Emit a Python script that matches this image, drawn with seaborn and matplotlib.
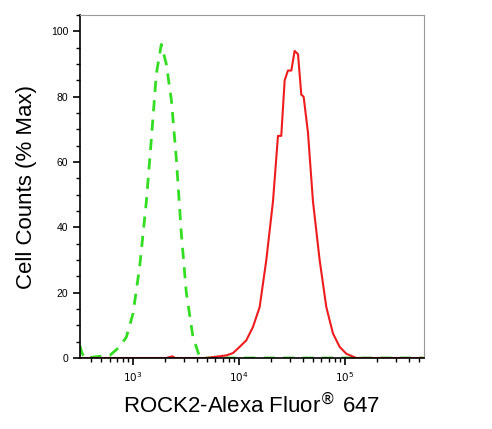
import numpy as np
import pandas as pd
import matplotlib
matplotlib.use('Agg')
import matplotlib.pyplot as plt
import matplotlib.ticker as mticker
import seaborn as sns

# isotype control (green dashed)
ctrl_x = [314, 330, 350, 485, 603, 748, 865, 1000, 1156, 1337, 1489, 1660, 1849, 2061,
          2301, 2564, 2858, 3184, 3681, 4256, 4920, 550000]
ctrl_y = [3.9, 1.5, 0, 0.5, 0.8, 3.4, 6.4, 13.6, 28, 48, 67, 87, 96, 90,
          79, 61, 38, 20, 6.4, 0.3, 0, 0]

# ROCK2 stained (red solid)
rock_x = [314, 2061, 2350, 2500, 4920, 7603, 8770, 10140, 11720, 13550, 15670, 18110, 20940,
          23330, 25060, 26980, 28970, 31190, 33500, 36060, 38730, 40740, 44770,
          49890, 57680, 66680, 77090, 89130, 103000, 127900, 550000]
rock_y = [0, 0, 0.5, 0, 0, 0.8, 1.5, 3.4, 5.4, 9.5, 15.6, 30, 48,
          68, 68, 85, 88, 88, 94, 93, 80.6, 80, 69,
          48, 30, 15.6, 7.5, 3.4, 1.3, 0, 0]

sns.set_style('white')
plt.rcParams['font.family'] = ['Liberation Sans', 'DejaVu Sans']
plt.rcParams['text.color'] = 'black'
plt.rcParams['axes.labelcolor'] = 'black'
plt.rcParams['xtick.color'] = 'black'
plt.rcParams['ytick.color'] = 'black'

fig = plt.figure(figsize=(4.92, 4.29), dpi=100)
ax = fig.add_axes([0.1626, 0.1655, 0.699, 0.7995])

df_c = pd.DataFrame({'x': ctrl_x, 'y': ctrl_y})
df_r = pd.DataFrame({'x': rock_x, 'y': rock_y})
sns.lineplot(data=df_c, x='x', y='y', ax=ax, color='#33dd22', lw=2.0,
             linestyle=(0, (4, 3)), sort=False)
sns.lineplot(data=df_r, x='x', y='y', ax=ax, color='#ee1c1c', lw=1.5, sort=False)

ax.set_xscale('log')
ax.set_xlim(316, 556000)
ax.set_ylim(0, 105)
ax.xaxis.set_major_locator(mticker.FixedLocator([1e3, 1e4, 1e5]))
ax.xaxis.set_major_formatter(mticker.FixedFormatter(['$10^3$', '$10^4$', '$10^5$']))
ax.xaxis.set_minor_locator(mticker.LogLocator(base=10, subs=np.arange(2, 10)))
ax.xaxis.set_minor_formatter(mticker.NullFormatter())
ax.yaxis.set_major_locator(mticker.MultipleLocator(20))
ax.yaxis.set_minor_locator(mticker.MultipleLocator(5))

ax.tick_params(axis='both', which='major', direction='out', length=5, width=1.2,
               labelsize=7.5, bottom=True, left=True, top=False, right=False)
ax.tick_params(axis='both', which='minor', direction='out', length=3, width=1,
               bottom=True, left=True, top=False, right=False)

for s in ['left', 'bottom']:
    ax.spines[s].set_color('black')
    ax.spines[s].set_linewidth(1.2)
for s in ['top', 'right']:
    ax.spines[s].set_color('#999999')
    ax.spines[s].set_linewidth(0.8)

ax.set_xlabel('ROCK2-Alexa Fluor$^{®}$ 647', fontsize=16, labelpad=6)
ax.set_ylabel('Cell Counts (% Max)', fontsize=16, labelpad=10)

fig.savefig('out.png', dpi=100)
